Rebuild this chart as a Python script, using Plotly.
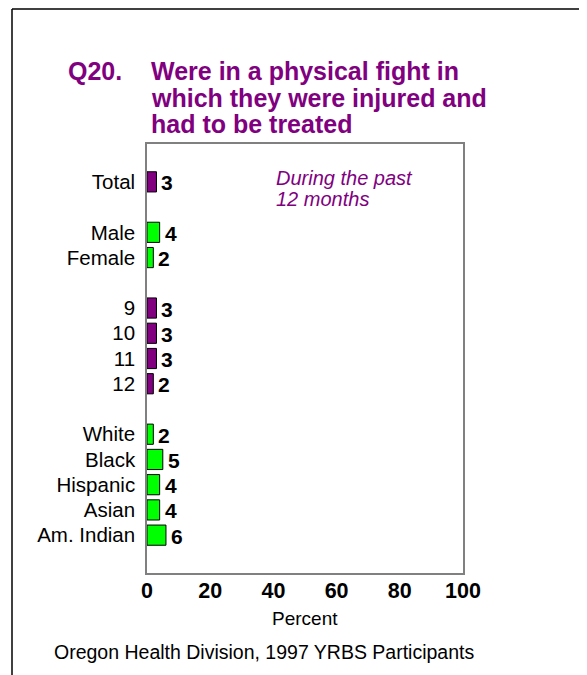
import plotly.graph_objects as go

categories = ["Total", "Male", "Female", "9", "10", "11", "12",
              "White", "Black", "Hispanic", "Asian", "Am. Indian"]
values = [3, 4, 2, 3, 3, 3, 2, 2, 5, 4, 4, 6]
positions = [0, 2, 3, 5, 6, 7, 8, 10, 11, 12, 13, 14]
bar_colors = ["#800080", "#00FF00", "#00FF00", "#800080", "#800080", "#800080",
              "#800080", "#00FF00", "#00FF00", "#00FF00", "#00FF00", "#00FF00"]
x_ticks = [0, 20, 40, 60, 80, 100]
title_lines = ["Were in a physical fight in", "which they were injured and", "had to be treated"]
note_lines = ["During the past", "12 months"]

FONT = "Liberation Sans, Arial, sans-serif"
OFF = 8  # default page body margin
PW, PH = 587, 675
W, H = PW - OFF, PH - OFF
# plot area in page pixels
L, R, T, B = 147, 463, 144, 573

def px(x):
    return (x - L) / (R - L)

def py(y):
    return (B - y) / (B - T)

fig = go.Figure()
fig.add_trace(go.Bar(
    x=values, y=positions, orientation="h",
    marker=dict(color=bar_colors, line=dict(color="#000000", width=1)),
    width=0.8, hoverinfo="skip",
))

shapes = [
    dict(type="line", xref="paper", yref="paper", x0=px(12), x1=px(PW + 10), y0=py(9), y1=py(9),
         line=dict(color="#000000", width=1.5)),
    dict(type="line", xref="paper", yref="paper", x0=px(12), x1=px(12), y0=py(9), y1=py(PH + 10),
         line=dict(color="#000000", width=1.5)),
]

annotations = []
# value labels
for v, p in zip(values, positions):
    annotations.append(dict(
        text=f"<b>{v}</b>", x=v, y=p, xref="x", yref="y",
        xanchor="left", yanchor="middle", xshift=3, yshift=-1, showarrow=False,
        font=dict(family=FONT, size=21, color="#000000")))

annotations.append(dict(text="<b>Q20.</b>", xref="paper", yref="paper", x=px(66), y=py(71),
                        xanchor="left", yanchor="middle", showarrow=False,
                        font=dict(family=FONT, size=25, color="#800080")))
for i, line in enumerate(title_lines):
    annotations.append(dict(text=f"<b>{line}</b>", xref="paper", yref="paper",
                            x=px(149), y=py(71 + 26.5 * i),
                            xanchor="left", yanchor="middle", showarrow=False,
                            font=dict(family=FONT, size=25, color="#800080")))
for i, line in enumerate(note_lines):
    annotations.append(dict(text=f"<i>{line}</i>", xref="paper", yref="paper",
                            x=px(274), y=py(178 + 21 * i),
                            xanchor="left", yanchor="middle", showarrow=False,
                            font=dict(family=FONT, size=20, color="#800080")))
annotations.append(dict(text="Percent", xref="paper", yref="paper", x=px(305), y=py(618),
                        xanchor="center", yanchor="middle", showarrow=False,
                        font=dict(family=FONT, size=19, color="#000000")))
annotations.append(dict(text="Oregon Health Division, 1997 YRBS Participants", xref="paper", yref="paper",
                        x=px(52), y=py(652), xanchor="left", yanchor="middle", showarrow=False,
                        font=dict(family=FONT, size=19.5, color="#000000")))

fig.update_layout(
    width=W, height=H,
    margin=dict(l=L - OFF, r=PW - R, t=T - OFF, b=PH - B, pad=0, autoexpand=False),
    paper_bgcolor="#FFFFFF", plot_bgcolor="#FFFFFF",
    showlegend=False,
    shapes=shapes, annotations=annotations,
    xaxis=dict(range=[0, 100], tickvals=x_ticks, ticktext=[f"<b>{t}</b>" for t in x_ticks],
               showgrid=False, zeroline=False, showline=True, linecolor="#808080", linewidth=1.5,
               mirror=True, ticks="", ticklabelstandoff=-3,
               tickfont=dict(family=FONT, size=21.5, color="#000000"),
               fixedrange=True),
    yaxis=dict(range=[15.5, -1.5], tickvals=positions, ticktext=categories,
               showgrid=False, zeroline=False, showline=True, linecolor="#808080", linewidth=1.5,
               mirror=True, ticks="", ticklabelstandoff=6,
               tickfont=dict(family=FONT, size=20.5, color="#000000"),
               fixedrange=True),
)

fig.write_html("out.html")
